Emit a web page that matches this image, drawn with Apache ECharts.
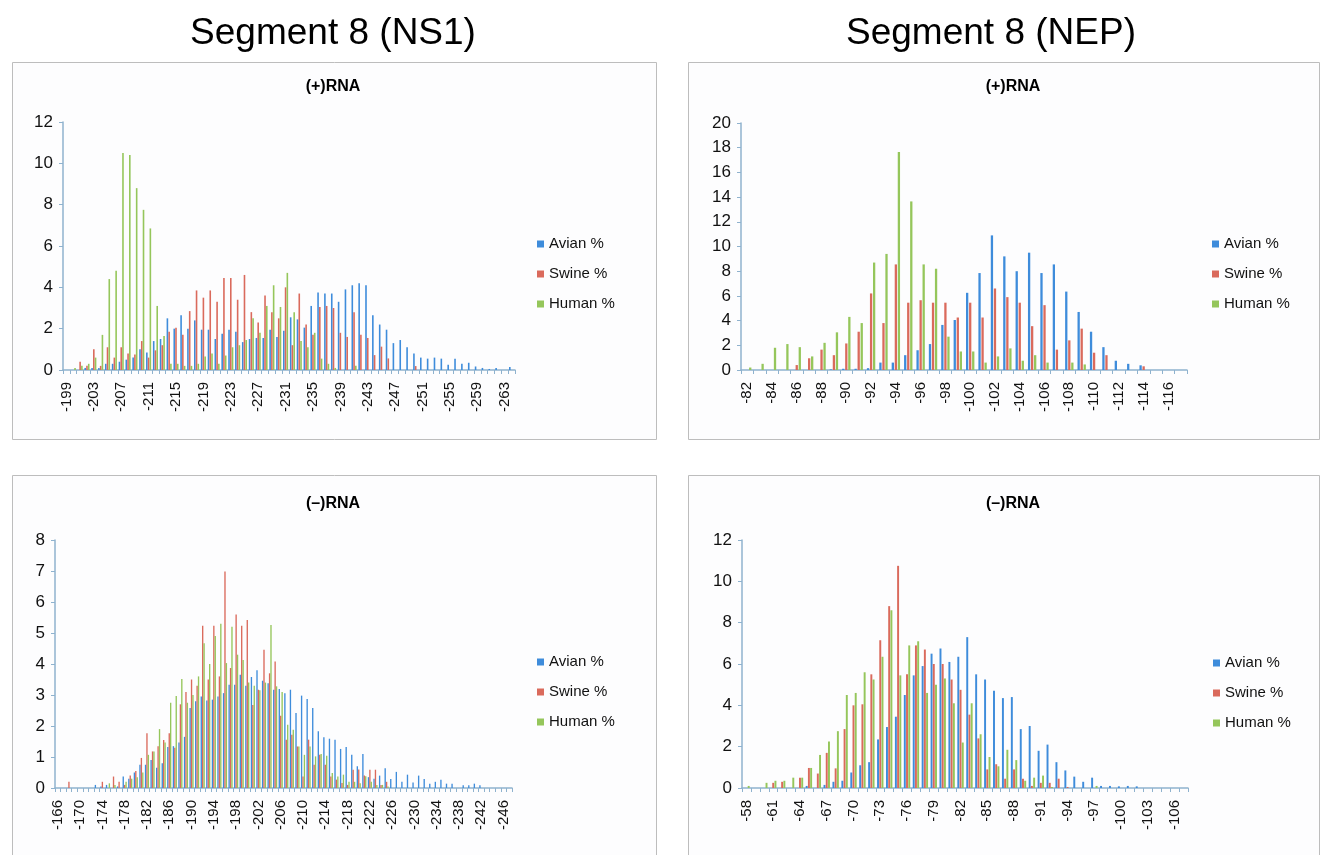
<!DOCTYPE html>
<html>
<head>
<meta charset="utf-8">
<script src="https://cdn.jsdelivr.net/npm/echarts@6/dist/echarts.min.js"></script>
<style>
html,body{margin:0;padding:0;background:#ffffff;}
#chart{width:1321px;height:855px;}
</style>
</head>
<body>
<div id="chart"></div>
<script>
// ---------- categories ----------
const ns1PlusCats = ["-199","-200","-201","-202","-203","-204","-205","-206","-207","-208","-209","-210","-211","-212","-213","-214","-215","-216","-217","-218","-219","-220","-221","-222","-223","-224","-225","-226","-227","-228","-229","-230","-231","-232","-233","-234","-235","-236","-237","-238","-239","-240","-241","-242","-243","-244","-245","-246","-247","-248","-249","-250","-251","-252","-253","-254","-255","-256","-257","-258","-259","-260","-261","-262","-263","-264"];
const nepPlusCats = ["-82","-83","-84","-85","-86","-87","-88","-89","-90","-91","-92","-93","-94","-95","-96","-97","-98","-99","-100","-101","-102","-103","-104","-105","-106","-107","-108","-109","-110","-111","-112","-113","-114","-115","-116","-117"];
const ns1MinusCats = ["-166","-167","-168","-169","-170","-171","-172","-173","-174","-175","-176","-177","-178","-179","-180","-181","-182","-183","-184","-185","-186","-187","-188","-189","-190","-191","-192","-193","-194","-195","-196","-197","-198","-199","-200","-201","-202","-203","-204","-205","-206","-207","-208","-209","-210","-211","-212","-213","-214","-215","-216","-217","-218","-219","-220","-221","-222","-223","-224","-225","-226","-227","-228","-229","-230","-231","-232","-233","-234","-235","-236","-237","-238","-239","-240","-241","-242","-243","-244","-245","-246","-247"];
const nepMinusCats = ["-58","-59","-60","-61","-62","-63","-64","-65","-66","-67","-68","-69","-70","-71","-72","-73","-74","-75","-76","-77","-78","-79","-80","-81","-82","-83","-84","-85","-86","-87","-88","-89","-90","-91","-92","-93","-94","-95","-96","-97","-98","-99","-100","-101","-102","-103","-104","-105","-106","-107"];

// ---------- Segment 8 (NS1) (+)RNA ----------
const ns1PlusAvian = [0,0,0,0.1,0.1,0.1,0.3,0.3,0.4,0.5, 0.6,1.0,0.85,1.4,1.5,2.5,2.0,2.65,2.0,2.4, 1.95,1.95,1.5,1.75,1.95,1.85,1.35,1.5,1.55,1.55, 1.95,1.6,1.9,2.55,2.45,2.05,3.1,3.75,3.7,3.7, 3.3,3.9,4.1,4.2,4.1,2.65,2.2,1.95,1.3,1.45, 1.1,0.8,0.6,0.55,0.6,0.55,0.25,0.55,0.3,0.35, 0.17,0.1,0.05,0.1,0,0.15];
const ns1PlusSwine = [0,0,0.4,0.2,1.0,0.2,1.1,0.6,1.1,0.8, 0.75,1.4,0.6,0.95,1.2,1.85,2.05,1.7,2.85,3.85, 3.5,3.85,3.3,4.45,4.45,3.4,4.6,2.8,2.3,3.6, 2.8,2.5,4.0,1.2,3.7,2.2,1.7,3.05,3.1,3.0, 1.8,1.6,2.8,1.7,1.55,0.72,1.13,0.56,0,0, 0,0.19,0,0,0,0,0,0,0,0, 0,0,0,0,0,0];
const ns1PlusHuman = [0,0.1,0.2,0.3,0.6,1.7,4.4,4.8,10.5,10.4, 8.8,7.75,6.85,3.1,1.65,0.3,0.3,0.2,0.2,0.3, 0.65,0.8,0.3,0.7,1.1,1.2,1.45,2.5,1.8,3.1, 4.1,3.05,4.7,2.8,1.4,1.1,1.8,0.55,0.3,0.1, 0,0,0.2,0,0,0,0,0,0,0, 0,0,0,0,0,0,0,0,0,0, 0,0,0,0,0,0];

// ---------- Segment 8 (NEP) (+)RNA ----------
const nepPlusAvian = [0,0,0,0,0,0,0,0.05,0.1,0.1, 0.15,0.6,0.6,1.2,1.6,2.1,3.65,4.05,6.25,7.85, 10.9,9.2,8.0,9.5,7.85,8.55,6.35,4.7,3.1,1.85, 0.75,0.5,0.38,0,0,0];
const nepPlusSwine = [0,0,0,0,0.4,0.95,1.65,1.2,2.15,3.1, 6.2,3.8,8.55,5.45,5.65,5.45,5.45,4.25,5.45,4.25, 6.6,5.9,5.45,3.55,5.25,1.65,2.4,3.35,1.4,1.2, 0,0,0.3,0,0,0];
const nepPlusHuman = [0.2,0.5,1.8,2.1,1.85,1.1,2.2,3.05,4.3,3.8, 8.7,9.4,17.65,13.65,8.55,8.2,2.7,1.5,1.5,0.6, 1.1,1.75,0.75,1.2,0.6,0,0.6,0.45,0,0, 0,0,0,0,0,0];

// ---------- Segment 8 (NS1) (–)RNA ----------
const ns1MinusAvian = [0,0,0,0,0,0,0,0.1,0.05,0.1, 0,0.05,0.37,0.3,0.5,0.75,0.75,0.9,0.65,0.8, 1.32,1.35,1.47,1.65,2.58,2.8,2.95,2.82,2.85,2.95, 3.06,3.33,3.33,3.65,3.3,3.58,3.8,3.46,3.38,3.17, 3.19,3.06,3.17,2.42,2.98,2.87,2.58,1.83,1.64,1.59, 1.56,1.26,1.32,1.07,0.7,1.1,0.35,0.3,0.4,0.64, 0.29,0.52,0.2,0.43,0.18,0.4,0.29,0.14,0.2,0.27, 0.14,0.14,0,0.09,0.09,0.14,0.09,0,0,0, 0,0];
const ns1MinusSwine = [0,0,0.2,0,0,0,0,0,0.2,0, 0.37,0.2,0.1,0.4,0.55,0.97,1.77,1.18,1.35,1.55, 1.77,1.3,2.7,3.1,3.5,3.3,5.23,3.5,5.23,3.6, 6.98,3.87,5.6,5.23,5.42,2.68,3.17,4.46,3.7,4.08, 2.33,1.56,1.72,1.34,0.37,1.56,0.75,1.07,0.75,0.37, 0.27,0.16,0.1,0.59,0.6,0.4,0.59,0.59,0.1,0.2, 0,0,0,0,0,0,0,0,0,0, 0,0,0,0,0,0,0,0,0,0, 0,0];
const ns1MinusHuman = [0,0,0,0,0,0,0,0,0,0.15, 0.1,0,0.2,0.3,0.35,0.5,1.07,1.18,1.9,1.47, 2.75,2.97,3.52,2.75,3.0,3.6,4.67,4.0,4.9,5.3, 4.03,5.2,4.3,4.13,3.4,3.3,3.15,3.4,5.26,3.28, 3.1,2.04,1.88,1.34,1.07,1.34,1.02,1.1,1.04,0.48, 0.37,0.43,0.2,0.2,0.15,0.38,0.2,0.1,0.1,0.05, 0,0,0,0,0,0,0,0,0,0, 0,0,0,0,0,0,0,0,0,0, 0,0];

// ---------- Segment 8 (NEP) (–)RNA ----------
const nepMinusAvian = [0,0,0,0,0,0,0,0.1,0,0.15, 0.3,0.35,0.75,1.1,1.25,2.35,2.95,3.45,4.5,5.45, 5.9,6.5,6.75,6.1,6.35,7.3,5.5,5.25,4.7,4.35, 4.4,2.85,3.0,1.8,2.1,1.25,0.85,0.55,0.3,0.5, 0.1,0.1,0.08,0.1,0.08,0,0,0,0,0];
const nepMinusSwine = [0,0,0,0.25,0.3,0,0.5,0.97,0.7,1.7, 0.95,2.85,4.0,4.05,5.5,7.15,8.8,10.75,5.5,6.9, 6.7,6.0,6.0,5.25,4.75,3.55,2.4,0.9,1.15,0.45, 0.9,0.45,0.1,0.25,0.25,0.45,0.05,0,0,0, 0,0,0,0,0,0,0,0,0,0];
const nepMinusHuman = [0.1,0,0.25,0.35,0.35,0.5,0.5,0.97,1.6,2.25, 2.75,4.5,4.6,5.6,5.25,6.35,8.6,5.45,6.9,7.1, 4.6,5.0,5.3,4.1,2.2,4.1,2.6,1.5,1.05,1.85, 1.35,0.35,0.5,0.6,0.05,0,0,0,0,0.1, 0,0,0,0,0,0,0,0,0,0];

const seriesNames = ["Avian %","Swine %","Human %"];
const colors = ["#3E8CDB","#DA6A5C","#95C65B"];
const FONT = "Liberation Sans, Arial, Helvetica, sans-serif";
const AXIS_COLOR = "#8FB2CE";

const panels = [
  {cats: ns1PlusCats, data:[ns1PlusAvian,ns1PlusSwine,ns1PlusHuman], max:12, step:2, labInt:3,
   grid:{left:63,top:122,width:452,height:248}, bw:1.6, gap:'10%', legend:{left:537,top:236}},
  {cats: nepPlusCats, data:[nepPlusAvian,nepPlusSwine,nepPlusHuman], max:20, step:2, labInt:1,
   grid:{left:741,top:123,width:446,height:247}, bw:2.3, gap:'32%', legend:{left:1212,top:236}},
  {cats: ns1MinusCats, data:[ns1MinusAvian,ns1MinusSwine,ns1MinusHuman], max:8, step:1, labInt:3,
   grid:{left:55,top:540,width:457,height:248}, bw:1.35, gap:'5%', legend:{left:537,top:654}},
  {cats: nepMinusCats, data:[nepMinusAvian,nepMinusSwine,nepMinusHuman], max:12, step:2, labInt:2,
   grid:{left:742,top:540,width:446,height:248}, bw:1.95, gap:'14%', legend:{left:1213,top:655}}
];

const grids=[], xAxes=[], yAxes=[], series=[], legends=[];
panels.forEach((p,pi)=>{
  grids.push(Object.assign({containLabel:false}, p.grid));
  xAxes.push({
    type:'category', gridIndex:pi, data:p.cats, boundaryGap:true,
    axisLine:{show:true,lineStyle:{color:AXIS_COLOR,width:1.5}},
    axisTick:{show:true,interval:0,length:4,lineStyle:{color:AXIS_COLOR}},
    axisLabel:{interval:p.labInt,rotate:90,margin:12,fontSize:15,color:'#111',fontFamily:FONT},
    splitLine:{show:false}
  });
  yAxes.push({
    type:'value', gridIndex:pi, min:0, max:p.max, interval:p.step,
    axisLine:{show:true,lineStyle:{color:AXIS_COLOR,width:1.5}},
    axisTick:{show:true,length:4,lineStyle:{color:AXIS_COLOR}},
    axisLabel:{margin:10,fontSize:17,color:'#111',fontFamily:FONT},
    splitLine:{show:false}
  });
  p.data.forEach((d,si)=>{
    series.push({
      type:'bar', name:seriesNames[si], xAxisIndex:pi, yAxisIndex:pi, data:d,
      barWidth:p.bw, barGap:p.gap, itemStyle:{color:colors[si]}, silent:true
    });
  });
  legends.push({
    data:seriesNames.map((n,i)=>({name:n,itemStyle:{color:colors[i]}})),
    orient:'vertical', left:p.legend.left, top:p.legend.top, padding:0,
    icon:'rect', itemWidth:7, itemHeight:7, itemGap:14, selectedMode:false,
    textStyle:{fontSize:15,color:'#111',fontFamily:FONT,lineHeight:16}
  });
});

const titles = [
  {text:'Segment 8 (NS1)', left:333, top:15, textAlign:'center', padding:0,
   textStyle:{fontSize:37,fontWeight:'normal',color:'#000',fontFamily:FONT}},
  {text:'Segment 8 (NEP)', left:991, top:15, textAlign:'center', padding:0,
   textStyle:{fontSize:37,fontWeight:'normal',color:'#000',fontFamily:FONT}},
  {text:'(+)RNA', left:333, top:79, textAlign:'center', padding:0,
   textStyle:{fontSize:16,fontWeight:'bold',color:'#000',fontFamily:FONT}},
  {text:'(+)RNA', left:1013, top:79, textAlign:'center', padding:0,
   textStyle:{fontSize:16,fontWeight:'bold',color:'#000',fontFamily:FONT}},
  {text:'(\u2013)RNA', left:333, top:496, textAlign:'center', padding:0,
   textStyle:{fontSize:16,fontWeight:'bold',color:'#000',fontFamily:FONT}},
  {text:'(\u2013)RNA', left:1013, top:496, textAlign:'center', padding:0,
   textStyle:{fontSize:16,fontWeight:'bold',color:'#000',fontFamily:FONT}}
];

const boxStyle = {fill:'#FDFDFE', stroke:'#BDBDBD', lineWidth:1};
const graphic = [
  {type:'rect', z:-10, shape:{x:12.5,y:62.5,width:644,height:377}, style:boxStyle, silent:true},
  {type:'rect', z:-10, shape:{x:688.5,y:62.5,width:631,height:377}, style:boxStyle, silent:true},
  {type:'rect', z:-10, shape:{x:12.5,y:475.5,width:644,height:395}, style:boxStyle, silent:true},
  {type:'rect', z:-10, shape:{x:688.5,y:475.5,width:631,height:395}, style:boxStyle, silent:true}
];

const chart = echarts.init(document.getElementById('chart'), null, {renderer:'canvas'});
chart.setOption({
  animation:false,
  backgroundColor:'#ffffff',
  title:titles,
  graphic:graphic,
  legend:legends,
  grid:grids,
  xAxis:xAxes,
  yAxis:yAxes,
  series:series
});
</script>
</body>
</html>
